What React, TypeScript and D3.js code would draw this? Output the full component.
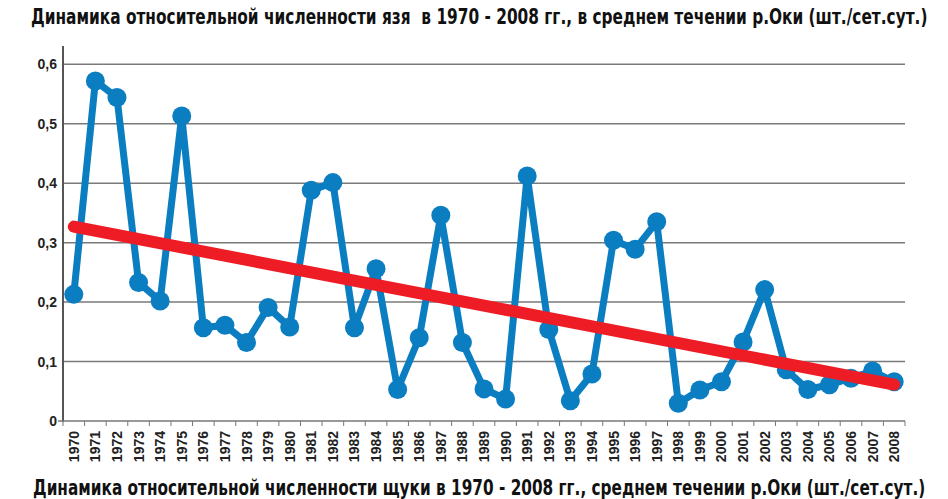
import React, { useLayoutEffect, useRef, useState } from "react";
import * as d3 from "d3";

const years = [
  "1970", "1971", "1972", "1973", "1974", "1975", "1976", "1977", "1978", "1979",
  "1980", "1981", "1982", "1983", "1984", "1985", "1986", "1987", "1988", "1989",
  "1990", "1991", "1992", "1993", "1994", "1995", "1996", "1997", "1998", "1999",
  "2000", "2001", "2002", "2003", "2004", "2005", "2006", "2007", "2008",
];

const values = [
  0.213, 0.572, 0.544, 0.233, 0.202, 0.513, 0.157, 0.161, 0.132, 0.191,
  0.158, 0.388, 0.401, 0.157, 0.256, 0.053, 0.14, 0.346, 0.132, 0.054,
  0.037, 0.412, 0.154, 0.034, 0.079, 0.304, 0.289, 0.335, 0.03, 0.052,
  0.066, 0.133, 0.221, 0.086, 0.053, 0.061, 0.072, 0.084, 0.066,
];

const yTicks = [0, 0.1, 0.2, 0.3, 0.4, 0.5, 0.6];

const titleTop =
  "Динамика относительной численности язя  в 1970 - 2008 гг., в среднем течении р.Оки (шт./сет.сут.)";
const titleBottom =
  "Динамика относительной численности щуки в 1970 - 2008 гг., среднем течении р.Оки (шт./сет.сут.)";

const W = 948;
const H = 499;
const left = 63;
const right = 905;
const y0 = 421;
const yTop = 64.3;

const blue = "#0b7dc1";
const red = "#ee1d25";
const narrow = "'Liberation Sans Narrow', 'DejaVu Sans Condensed', 'Arial Narrow', sans-serif";
const sans = "'Liberation Sans', Arial, sans-serif";

// title squeezed horizontally to the width it has in the picture
const FitTitle: React.FC<{ text: string; x: number; y: number; width: number }> = ({
  text,
  x,
  y,
  width,
}) => {
  const ref = useRef<SVGTextElement | null>(null);
  const [sx, setSx] = useState(1);
  useLayoutEffect(() => {
    if (ref.current) {
      const w = ref.current.getComputedTextLength();
      if (w > 0) setSx(width / w);
    }
  }, [text, width]);
  return (
    <text
      ref={ref}
      transform={`translate(${x},${y}) scale(${sx},1)`}
      fontFamily={narrow}
      fontWeight="bold"
      fontSize={20.5}
      fill="#111"
      style={{ whiteSpace: "pre" }}
    >
      {text}
    </text>
  );
};

export default function App() {
  const x = d3.scaleBand<string>().domain(years).range([left, right]).padding(0);
  const y = d3.scaleLinear().domain([0, 0.6]).range([y0, yTop]);
  const cx = (yr: string) => (x(yr) ?? 0) + x.bandwidth() / 2;

  const line = d3
    .line<number>()
    .x((_, i) => cx(years[i]))
    .y((d) => y(d));

  // linear trend (least squares over year index)
  const idx = values.map((_, i) => i);
  const mx = d3.mean(idx) || 0;
  const my = d3.mean(values) || 0;
  const slope =
    d3.sum(idx, (i) => (i - mx) * (values[i] - my)) /
    d3.sum(idx, (i) => (i - mx) * (i - mx));
  const trendAt = (i: number) => my + slope * (i - mx);
  const last = years.length - 1;

  const bounds = years.map((yr) => x(yr) ?? 0).concat([right]);

  return (
    <svg width={W} height={H} style={{ position: "absolute", left: 0, top: 0 }}>
      <rect width={W} height={H} fill="#fff" />
      <FitTitle text={titleTop} x={31} y={24} width={897} />

      {yTicks.filter((t) => t > 0).map((t) => (
        <line key={t} x1={left} x2={right} y1={y(t)} y2={y(t)} stroke="#7a7a7a" strokeWidth={1.5} />
      ))}
      {yTicks.map((t) => (
        <text
          key={"l" + t}
          x={57}
          y={y(t) + 5}
          textAnchor="end"
          fontFamily={sans}
          fontWeight="bold"
          fontSize={14}
          fill="#222"
        >
          {d3.format(".1f")(t).replace(".", ",").replace(/^0,0$/, "0")}
        </text>
      ))}

      <line x1={left} x2={left} y1={46} y2={y0 + 1} stroke="#555" strokeWidth={2} />
      <line x1={left - 5} x2={right} y1={y0} y2={y0} stroke="#777" strokeWidth={1.5} />
      {bounds.map((b, i) => (
        <line key={"t" + i} x1={b} x2={b} y1={y0} y2={y0 + 5} stroke="#777" strokeWidth={1} />
      ))}
      {years.map((yr) => (
        <text
          key={"x" + yr}
          transform={`translate(${cx(yr) + 5},${431}) rotate(-90)`}
          textAnchor="end"
          fontFamily={sans}
          fontWeight="bold"
          fontSize={14}
          fill="#222"
        >
          {yr}
        </text>
      ))}

      <path d={line(values) || ""} fill="none" stroke={blue} strokeWidth={7} strokeLinejoin="round" />
      {values.map((v, i) => (
        <circle key={"c" + i} cx={cx(years[i])} cy={y(v)} r={9.5} fill={blue} />
      ))}

      <line
        x1={cx(years[0])}
        y1={y(trendAt(0))}
        x2={cx(years[last])}
        y2={y(trendAt(last))}
        stroke={red}
        strokeWidth={12}
        strokeLinecap="round"
      />

      <FitTitle text={titleBottom} x={33} y={495} width={893} />
    </svg>
  );
}
